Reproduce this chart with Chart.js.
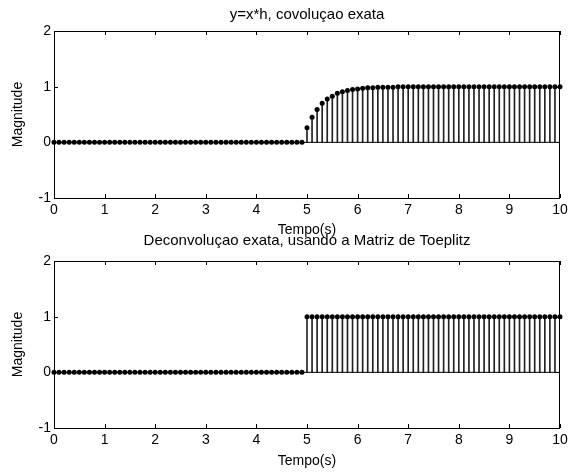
<!DOCTYPE html>
<html>
<head>
<meta charset="utf-8">
<script src="https://cdn.jsdelivr.net/npm/chart.js@4.4.0/dist/chart.umd.min.js"></script>
<style>
body { margin: 0; background: #fff; }
#wrap { position: relative; width: 575px; height: 472px; }
canvas { position: absolute; left: 0; }
</style>
</head>
<body>
<div id="wrap">
<canvas id="convChart" width="575" height="240" style="top:0"></canvas>
<canvas id="deconvChart" width="575" height="246" style="top:226px"></canvas>
</div>
<script>
// sample instants (s)
var times = [
  0, 0.1, 0.2, 0.3, 0.4, 0.5, 0.6, 0.7, 0.8, 0.9,
  1, 1.1, 1.2, 1.3, 1.4, 1.5, 1.6, 1.7, 1.8, 1.9,
  2, 2.1, 2.2, 2.3, 2.4, 2.5, 2.6, 2.7, 2.8, 2.9,
  3, 3.1, 3.2, 3.3, 3.4, 3.5, 3.6, 3.7, 3.8, 3.9,
  4, 4.1, 4.2, 4.3, 4.4, 4.5, 4.6, 4.7, 4.8, 4.9,
  5, 5.1, 5.2, 5.3, 5.4, 5.5, 5.6, 5.7, 5.8, 5.9,
  6, 6.1, 6.2, 6.3, 6.4, 6.5, 6.6, 6.7, 6.8, 6.9,
  7, 7.1, 7.2, 7.3, 7.4, 7.5, 7.6, 7.7, 7.8, 7.9,
  8, 8.1, 8.2, 8.3, 8.4, 8.5, 8.6, 8.7, 8.8, 8.9,
  9, 9.1, 9.2, 9.3, 9.4, 9.5, 9.6, 9.7, 9.8, 9.9,
  10
];

// y = x*h
var convValues = [
  0, 0, 0, 0, 0, 0, 0, 0, 0, 0,
  0, 0, 0, 0, 0, 0, 0, 0, 0, 0,
  0, 0, 0, 0, 0, 0, 0, 0, 0, 0,
  0, 0, 0, 0, 0, 0, 0, 0, 0, 0,
  0, 0, 0, 0, 0, 0, 0, 0, 0, 0,
  0.26, 0.45, 0.59, 0.70, 0.78, 0.83, 0.88, 0.91, 0.93, 0.95,
  0.96, 0.97, 0.98, 0.98, 0.99, 0.99, 0.99, 0.99, 1, 1,
  1, 1, 1, 1, 1, 1, 1, 1, 1, 1,
  1, 1, 1, 1, 1, 1, 1, 1, 1, 1,
  1, 1, 1, 1, 1, 1, 1, 1, 1, 1,
  1
];

// deconvolution (Toeplitz)
var deconvValues = [
  0, 0, 0, 0, 0, 0, 0, 0, 0, 0,
  0, 0, 0, 0, 0, 0, 0, 0, 0, 0,
  0, 0, 0, 0, 0, 0, 0, 0, 0, 0,
  0, 0, 0, 0, 0, 0, 0, 0, 0, 0,
  0, 0, 0, 0, 0, 0, 0, 0, 0, 0,
  1, 1, 1, 1, 1, 1, 1, 1, 1, 1,
  1, 1, 1, 1, 1, 1, 1, 1, 1, 1,
  1, 1, 1, 1, 1, 1, 1, 1, 1, 1,
  1, 1, 1, 1, 1, 1, 1, 1, 1, 1,
  1, 1, 1, 1, 1, 1, 1, 1, 1, 1,
  1
];

var xTicks = [0, 1, 2, 3, 4, 5, 6, 7, 8, 9, 10];
var yTicks = [-1, 0, 1, 2];

Chart.defaults.font.family = '"Liberation Sans", Arial, sans-serif';
Chart.defaults.font.size = 14;
Chart.defaults.color = '#000';

// matlab-like box with inward ticks on all sides
var boxTicks = {
    id: 'boxTicks',
    afterDatasetsDraw: function(chart) {
        var ctx = chart.ctx, a = chart.chartArea;
        var xs = chart.scales.x, ys = chart.scales.y, len = 4;
        ctx.save();
        ctx.strokeStyle = '#000';
        ctx.lineWidth = 1;
        ctx.beginPath();
        xTicks.forEach(function(v) {
            var px = Math.round(xs.getPixelForValue(v)) + 0.5;
            ctx.moveTo(px, a.bottom); ctx.lineTo(px, a.bottom - len);
            ctx.moveTo(px, a.top); ctx.lineTo(px, a.top + len);
        });
        yTicks.forEach(function(v) {
            var py = Math.round(ys.getPixelForValue(v)) + 0.5;
            ctx.moveTo(a.left, py); ctx.lineTo(a.left + len, py);
            ctx.moveTo(a.right, py); ctx.lineTo(a.right - len, py);
        });
        ctx.stroke();
        ctx.strokeRect(a.left + 0.5, a.top + 0.5, a.right - a.left - 1, a.bottom - a.top);
        ctx.restore();
    }
};

function makePlot(id, values, title, o) {
    var pts = times.map(function(t, i) { return {x: t, y: values[i]}; });
    var base = [{x: times[0], y: 0}, {x: times[times.length - 1], y: 0}];
    return new Chart(id, {
        type: 'bar',
        data: {
            datasets: [{
                type: 'line',
                data: pts,
                showLine: false,
                pointRadius: 2.5,
                pointBackgroundColor: '#000',
                pointBorderColor: '#000',
                pointBorderWidth: 0,
                clip: 6,
                order: 0
            }, {
                type: 'line',
                data: base,
                borderColor: '#000',
                borderWidth: 1,
                pointRadius: 0,
                order: 1
            }, {
                type: 'bar',
                data: pts,
                backgroundColor: '#222',
                barThickness: 1,
                order: 2
            }]
        },
        options: {
            responsive: false,
            animation: false,
            layout: { padding: { left: 0, right: 15, top: 0, bottom: 0 } },
            plugins: {
                legend: { display: false },
                tooltip: { enabled: false }
            },
            scales: {
                x: {
                    type: 'linear',
                    min: 0, max: 10,
                    offset: false,
                    grid: { display: false, drawTicks: false },
                    border: { display: false },
                    afterBuildTicks: function(s) { s.ticks = xTicks.map(function(v) { return {value: v}; }); },
                    afterFit: function(s) { s.height = o.xHeight; },
                    ticks: { padding: 3.6, maxRotation: 0 },
                    title: { display: true, text: 'Tempo(s)', padding: { top: 0, bottom: o.xTitleBottom } }
                },
                // top axis only carries the subplot title, centred over the plot box
                x2: {
                    type: 'linear',
                    position: 'top',
                    min: 0, max: 10,
                    grid: { display: false, drawTicks: false },
                    border: { display: false },
                    ticks: { display: false },
                    afterFit: function(s) { s.height = o.topHeight; },
                    title: { display: true, text: title, font: { size: 15 }, padding: { top: 6, bottom: 0 } }
                },
                y: {
                    min: -1, max: 2,
                    grid: { display: false, drawTicks: false },
                    border: { display: false },
                    afterBuildTicks: function(s) { s.ticks = yTicks.map(function(v) { return {value: v}; }); },
                    afterFit: function(s) { s.width = 54; },
                    ticks: { padding: 3 },
                    title: { display: true, text: 'Magnitude', padding: { top: 9.6, bottom: 0 } }
                }
            }
        },
        plugins: [boxTicks]
    });
}

makePlot('convChart', convValues, 'y=x*h, covoluçao exata',
    { topHeight: 31, xHeight: 42, xTitleBottom: 1.6 });
makePlot('deconvChart', deconvValues, 'Deconvoluçao exata, usando a Matriz de Toeplitz',
    { topHeight: 35, xHeight: 44, xTitleBottom: 2.6 });
</script>
</body>
</html>
